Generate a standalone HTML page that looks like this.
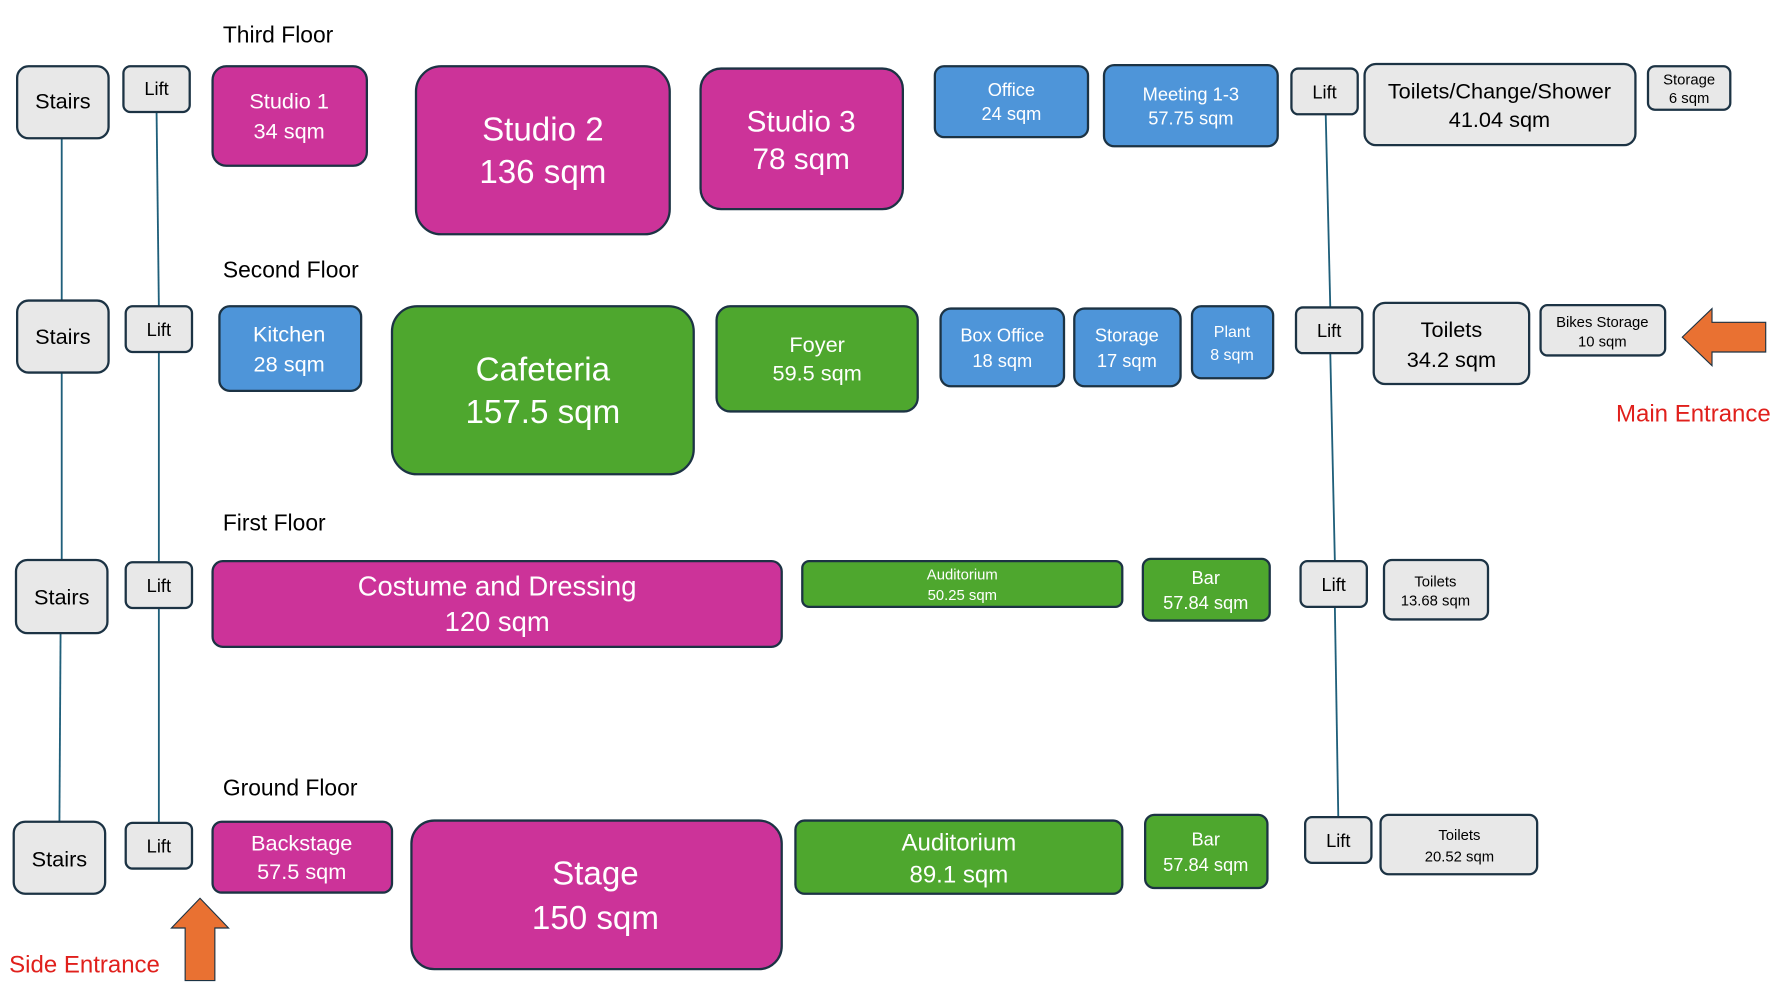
<!DOCTYPE html>
<html><head><meta charset="utf-8"><style>
html,body{margin:0;padding:0;background:#fff;}
svg{display:block;}
text{font-family:"Liberation Sans",sans-serif;}
.g{fill:#e8e8e8;stroke:#1c3344;stroke-width:2;}
.m{fill:#cc3399;stroke:#1c3344;stroke-width:2;}
.gr{fill:#4ea72e;stroke:#1c3344;stroke-width:2;}
.b{fill:#4e95d9;stroke:#1c3344;stroke-width:2;}
.w{fill:#fff;text-anchor:middle;}
.k{fill:#000;text-anchor:middle;}
.t{fill:#000;font-size:20px;}
</style></head><body>
<svg width="1792" height="1008" viewBox="0 0 1568 882" xmlns="http://www.w3.org/2000/svg">
<g stroke="#1f5f7a" stroke-width="1.6" fill="none">
<line x1="54" y1="121" x2="54" y2="263"/><line x1="54" y1="326" x2="54" y2="490"/><line x1="53" y1="554" x2="52" y2="719"/>
<line x1="137" y1="98" x2="139" y2="268"/><line x1="139" y1="308" x2="139" y2="492"/><line x1="139" y1="532" x2="139" y2="720"/>
<line x1="1160" y1="100" x2="1164" y2="269"/><line x1="1164" y1="309" x2="1168" y2="491"/><line x1="1168" y1="531" x2="1171" y2="715"/>
</g>
<text class="t" x="195" y="37">Third Floor</text>
<text class="t" x="195" y="243">Second Floor</text>
<text class="t" x="195" y="464">First Floor</text>
<text class="t" x="195" y="696">Ground Floor</text>

<!-- Third -->
<rect class="g" x="15" y="58" width="80" height="63" rx="10"/><text class="k" x="55" y="95" font-size="19">Stairs</text>
<rect class="g" x="108" y="58" width="58" height="40" rx="6"/><text class="k" x="137" y="83" font-size="16">Lift</text>
<rect class="m" x="186" y="58" width="135" height="87" rx="12"/><text class="w" x="253" y="95" font-size="19">Studio 1</text><text class="w" x="253" y="121" font-size="19">34 sqm</text>
<rect class="m" x="364" y="58" width="222" height="147" rx="22"/><text class="w" x="475" y="123" font-size="29">Studio 2</text><text class="w" x="475" y="160" font-size="29">136 sqm</text>
<rect class="m" x="613" y="60" width="177" height="123" rx="18"/><text class="w" x="701" y="115" font-size="26">Studio 3</text><text class="w" x="701" y="148" font-size="26">78 sqm</text>
<rect class="b" x="818" y="58" width="134" height="62" rx="8"/><text class="w" x="885" y="84" font-size="16">Office</text><text class="w" x="885" y="105" font-size="16">24 sqm</text>
<rect class="b" x="966" y="57" width="152" height="71" rx="9"/><text class="w" x="1042" y="88" font-size="16">Meeting 1-3</text><text class="w" x="1042" y="109" font-size="16">57.75 sqm</text>
<rect class="g" x="1130" y="60" width="58" height="40" rx="6"/><text class="k" x="1159" y="86" font-size="16">Lift</text>
<rect class="g" x="1194" y="56" width="237" height="71" rx="10"/><text class="k" x="1312" y="86" font-size="19">Toilets/Change/Shower</text><text class="k" x="1312" y="111" font-size="19">41.04 sqm</text>
<rect class="g" x="1442" y="58" width="72" height="38" rx="6"/><text class="k" x="1478" y="74" font-size="13">Storage</text><text class="k" x="1478" y="90" font-size="13">6 sqm</text>

<!-- Second -->
<rect class="g" x="15" y="263" width="80" height="63" rx="10"/><text class="k" x="55" y="301" font-size="19">Stairs</text>
<rect class="g" x="110" y="268" width="58" height="40" rx="6"/><text class="k" x="139" y="294" font-size="16">Lift</text>
<rect class="b" x="192" y="268" width="124" height="74" rx="9"/><text class="w" x="253" y="299" font-size="19">Kitchen</text><text class="w" x="253" y="325" font-size="19">28 sqm</text>
<rect class="m" x="343" y="268" width="264" height="147" rx="22" style="fill:#4ea72e"/><text class="w" x="475" y="333" font-size="29">Cafeteria</text><text class="w" x="475" y="370" font-size="29">157.5 sqm</text>
<rect class="gr" x="627" y="268" width="176" height="92" rx="12"/><text class="w" x="715" y="308" font-size="19">Foyer</text><text class="w" x="715" y="333" font-size="19">59.5 sqm</text>
<rect class="b" x="823" y="270" width="108" height="68" rx="9"/><text class="w" x="877" y="299" font-size="16">Box Office</text><text class="w" x="877" y="321" font-size="16">18 sqm</text>
<rect class="b" x="940" y="270" width="93" height="68" rx="9"/><text class="w" x="986" y="299" font-size="16">Storage</text><text class="w" x="986" y="321" font-size="16">17 sqm</text>
<rect class="b" x="1043" y="268" width="71" height="63" rx="8"/><text class="w" x="1078" y="295" font-size="14">Plant</text><text class="w" x="1078" y="315" font-size="14">8 sqm</text>
<rect class="g" x="1134" y="269" width="58" height="40" rx="6"/><text class="k" x="1163" y="295" font-size="16">Lift</text>
<rect class="g" x="1202" y="265" width="136" height="71" rx="10"/><text class="k" x="1270" y="295" font-size="19">Toilets</text><text class="k" x="1270" y="321" font-size="19">34.2 sqm</text>
<rect class="g" x="1348" y="267" width="109" height="44" rx="6"/><text class="k" x="1402" y="286" font-size="13">Bikes Storage</text><text class="k" x="1402" y="303" font-size="13">10 sqm</text>
<polygon points="1472,295 1498,270 1498,282 1545,282 1545,308 1498,308 1498,320" fill="#e97132" stroke="#1c3344" stroke-width="1"/>
<text x="1414" y="369" font-size="21" fill="#e0201c">Main Entrance</text>

<!-- First -->
<rect class="g" x="14" y="490" width="80" height="64" rx="10"/><text class="k" x="54" y="529" font-size="19">Stairs</text>
<rect class="g" x="110" y="492" width="58" height="40" rx="6"/><text class="k" x="139" y="518" font-size="16">Lift</text>
<rect class="m" x="186" y="491" width="498" height="75" rx="9"/><text class="w" x="435" y="521" font-size="24">Costume and Dressing</text><text class="w" x="435" y="552" font-size="24">120 sqm</text>
<rect class="gr" x="702" y="491" width="280" height="40" rx="6"/><text class="w" x="842" y="507" font-size="13">Auditorium</text><text class="w" x="842" y="525" font-size="13">50.25 sqm</text>
<rect class="gr" x="1000" y="489" width="111" height="54" rx="7"/><text class="w" x="1055" y="511" font-size="16">Bar</text><text class="w" x="1055" y="533" font-size="16">57.84 sqm</text>
<rect class="g" x="1138" y="491" width="58" height="40" rx="6"/><text class="k" x="1167" y="517" font-size="16">Lift</text>
<rect class="g" x="1211" y="490" width="91" height="52" rx="7"/><text class="k" x="1256" y="513" font-size="13">Toilets</text><text class="k" x="1256" y="530" font-size="13">13.68 sqm</text>

<!-- Ground -->
<rect class="g" x="12" y="719" width="80" height="63" rx="10"/><text class="k" x="52" y="758" font-size="19">Stairs</text>
<rect class="g" x="110" y="720" width="58" height="40" rx="6"/><text class="k" x="139" y="746" font-size="16">Lift</text>
<rect class="m" x="186" y="719" width="157" height="62" rx="8"/><text class="w" x="264" y="744" font-size="19">Backstage</text><text class="w" x="264" y="769" font-size="19">57.5 sqm</text>
<rect class="m" x="360" y="718" width="324" height="130" rx="20"/><text class="w" x="521" y="774" font-size="29">Stage</text><text class="w" x="521" y="813" font-size="29">150 sqm</text>
<rect class="gr" x="696" y="718" width="286" height="64" rx="8"/><text class="w" x="839" y="744" font-size="21">Auditorium</text><text class="w" x="839" y="772" font-size="21">89.1 sqm</text>
<rect class="gr" x="1002" y="713" width="107" height="64" rx="8"/><text class="w" x="1055" y="740" font-size="16">Bar</text><text class="w" x="1055" y="762" font-size="16">57.84 sqm</text>
<rect class="g" x="1142" y="715" width="58" height="40" rx="6"/><text class="k" x="1171" y="741" font-size="16">Lift</text>
<rect class="g" x="1208" y="713" width="137" height="52" rx="7"/><text class="k" x="1277" y="735" font-size="13">Toilets</text><text class="k" x="1277" y="754" font-size="13">20.52 sqm</text>
<polygon points="175,786 200,812 188,812 188,858 162,858 162,812 150,812" fill="#e97132" stroke="#1c3344" stroke-width="1"/>
<text x="8" y="851" font-size="21" fill="#e0201c">Side Entrance</text>
</svg>
</body></html>
